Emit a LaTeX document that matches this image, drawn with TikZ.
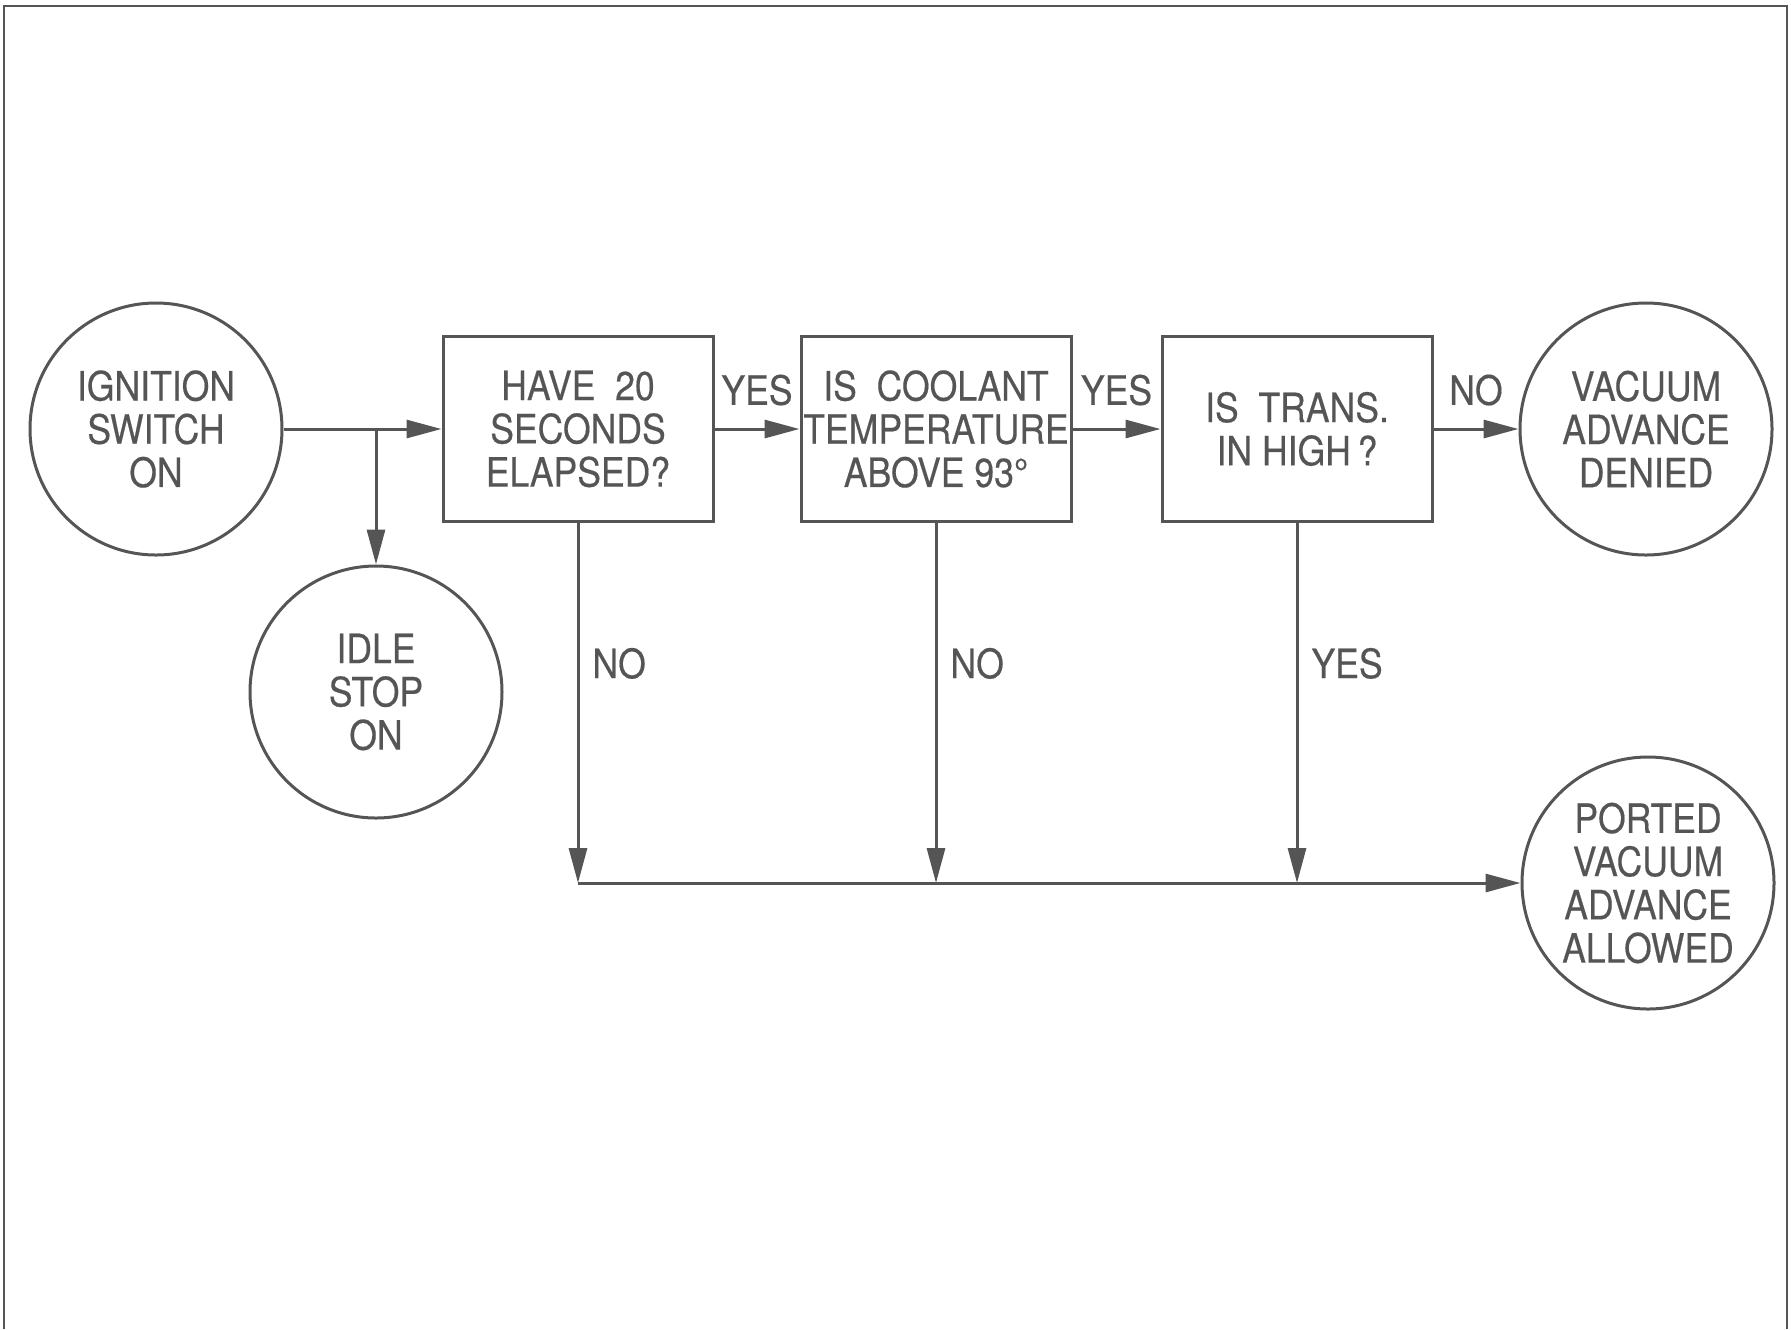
\documentclass[tikz,border=0pt]{standalone}
\usepackage{fontspec}
\newfontfamily\flowfont{TeX Gyre Heros}[FakeStretch=0.88,FakeBold=0.4]
\usetikzlibrary{arrows.meta,positioning}
\definecolor{ink}{RGB}{85,85,85}
\tikzset{
  flow/.style={draw=ink,line width=0.3mm},
  flowtext/.style={text=ink,font=\flowfont\fontsize{11.5}{12.3}\selectfont,align=center},
  endpoint/.style={circle,flow,flowtext,minimum size=25.2mm,inner sep=0pt},
  test/.style={rectangle,flow,flowtext,minimum width=27mm,minimum height=18.5mm,inner sep=0pt},
  answer/.style={flowtext,inner sep=0pt}
}
\begin{document}
\begin{tikzpicture}[x=0.1mm,y=-0.1mm,>={Triangle[length=3.5mm,width=1.8mm]}]
	\useasboundingbox (0,0) rectangle (1791,1329);
	% frame, open at the bottom
	\draw[ink,line width=0.25mm] (4,1329) -- (4,6) -- (1787,6) -- (1787,1329);
	% nodes
	\node[endpoint] (ignition) at (156,429) {IGNITION\\SWITCH\\ON};
	\node[endpoint] (idle) at (376,692) {IDLE\\STOP\\ON};
	\node[test] (seconds) at (578,429) {HAVE\ \ 20\\SECONDS\\ELAPSED?};
	\node[test] (coolant) at (936,429) {IS\ \ COOLANT\\TEMPERATURE\\ABOVE 93°};
	\node[test] (trans) at (1297,429) {IS\ \ TRANS.\\IN HIGH\,?};
	\node[endpoint] (denied) at (1646,429) {VACUUM\\ADVANCE\\DENIED};
	\node[endpoint] (ported) at (1648,883) {PORTED\\VACUUM\\ADVANCE\\ALLOWED};
	% main row
	\coordinate (split) at (idle |- ignition);
	\draw[flow,->] (ignition) -- (seconds);
	\draw[flow,->] (split) -- (idle);
	\draw[flow,->] (seconds) -- node[answer,above=2.2mm] (yes1) {YES} (coolant);
	\draw[flow,->] (coolant) -- node[answer,above=2.2mm] (yes2) {YES} (trans);
	\draw[flow,->] (trans) -- node[answer,above=2.2mm] (no3) {NO} (denied);
	% branches down to the ported advance
	\foreach \q/\a in {seconds/NO,coolant/NO,trans/YES}{
		\coordinate (\q-join) at (\q.south |- ported);
		\draw[flow,->] (\q.south) -- node[answer,pos=0.39,right=1.3mm] (\q-ans) {\a} (\q-join);
	}
	\draw[flow,->] (seconds-join) -- (ported);
\end{tikzpicture}
\end{document}
